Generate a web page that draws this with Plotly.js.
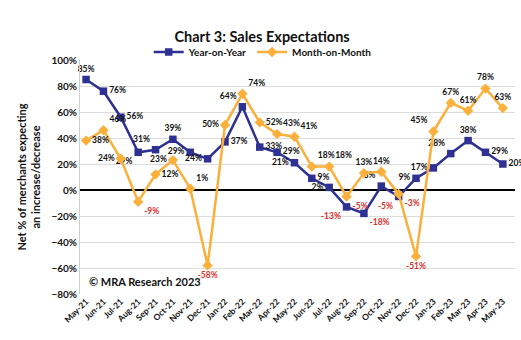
<!DOCTYPE html>
<html><head><meta charset="utf-8">
<script src="https://cdn.plot.ly/plotly-3.0.1.min.js"></script>
<style>body{margin:0;background:#fff}#c{width:521px;height:340px}</style>
</head><body><div id="c"></div>
<script>
const months = ["May-21","Jun-21","Jul-21","Aug-21","Sep-21","Oct-21","Nov-21","Dec-21","Jan-22","Feb-22","Mar-22","Apr-22","May-22","Jun-22","Jul-22","Aug-22","Sep-22","Oct-22","Nov-22","Dec-22","Jan-23","Feb-23","Mar-23","Apr-23","May-23"];
const yoy = [85,76,56,29,31,39,29,24,37,64,33,29,21,9,2,-13,-18,3,-5,9,17,28,38,29,20];
const mom = [38,46,24,-9,12,23,1,-58,50,74,52,43,41,18,18,-5,13,14,-3,-51,45,67,61,78,63];
const yoyPos = ["top center","middle right","middle right","bottom left","top left","top center","middle left","middle left","middle right","top left","middle right","middle right","middle left","middle right","middle left","bottom left","bottom right","top left","bottom left","middle left","middle left","top left","top center","middle right","middle right"];
const momPos = ["middle right","top right","middle left","bottom right","middle right","middle left","top right","bottom center","middle left","top right","middle right","top right","top right","top right","top right","bottom right","top center","top center","bottom right","bottom center","top left","top center","top center","top center","top center"];
const lab = a => a.map(v => v + "%");
const col = a => a.map(v => v < 0 ? "#d9312b" : "#111");
const fontF = "Lato, 'Open Sans', sans-serif";
const traces = [
 {x: months, y: yoy, name: "Year-on-Year", type: "scatter", mode: "lines+markers+text",
  line: {color: "#2e3192", width: 2.5}, marker: {symbol: "square", size: 7.5, color: "#2e3192"},
  text: lab(yoy), textposition: yoyPos, textfont: {family: fontF, size: 8.5, color: col(yoy), weight: "bold"}, cliponaxis: false},
 {x: months, y: mom, name: "Month-on-Month", type: "scatter", mode: "lines+markers+text",
  line: {color: "#fbb03b", width: 2.5}, marker: {symbol: "diamond", size: 8, color: "#fbb03b"},
  text: lab(mom), textposition: momPos, textfont: {family: fontF, size: 8.5, color: col(mom), weight: "bold"}, cliponaxis: false}
];
const layout = {
 width: 521, height: 340,
 margin: {l: 80, r: 6, t: 60, b: 46},
 paper_bgcolor: "#fff", plot_bgcolor: "#fff",
 font: {family: fontF, color: "#111"},
 title: {text: "<b>Chart 3: Sales Expectations</b>", x: 0.503, xanchor: "center", y: 0.89, yanchor: "middle", font: {size: 14.5, family: fontF, color: "#111"}},
 legend: {orientation: "h", x: 0.42, xanchor: "center", y: 1.034, yanchor: "middle", font: {size: 10, family: fontF, weight: "bold"}, itemwidth: 30, tracegroupgap: 0, bgcolor: "rgba(0,0,0,0)"},
 showlegend: true,
 xaxis: {type: "category", range: [-0.35, 24.7], tickangle: -45, tickfont: {size: 8.5, family: fontF, weight: "bold"}, showgrid: false, zeroline: false, showline: false, ticks: ""},
 yaxis: {range: [-80, 100], dtick: 20, ticksuffix: "%", tickfont: {size: 10, family: fontF, weight: "bold"}, gridcolor: "#dcdcdc", gridwidth: 1, zeroline: true, zerolinecolor: "#000", zerolinewidth: 2, showline: true, linecolor: "#cfcfcf",
  title: {text: "<b>Net % of merchants expecting<br>an increase/decrease</b>", font: {size: 11, family: fontF}, standoff: 8}},
 annotations: [{text: "<b>© MRA Research 2023</b>", xref: "paper", yref: "paper", x: 0.015, y: 0.055, xanchor: "left", yanchor: "middle", showarrow: false, font: {size: 11, family: fontF, color: "#111"}}]
};
Plotly.newPlot("c", traces, layout, {displayModeBar: false});
</script></body></html>
